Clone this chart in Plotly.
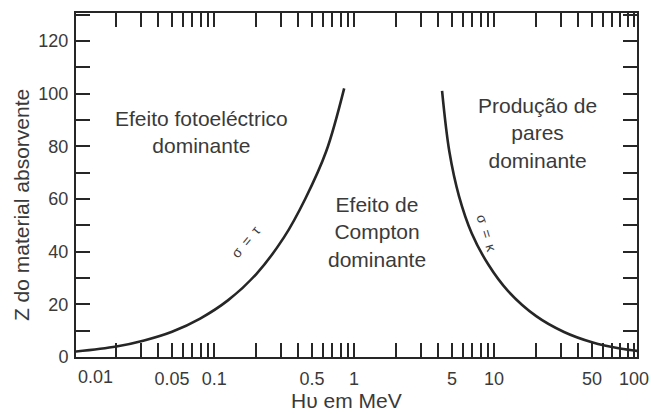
import math
import plotly.graph_objects as go

# Boundary where photoelectric absorption equals Compton scattering (sigma = tau)
photo_energy = [0.0100, 0.0200, 0.0316, 0.0500, 0.0794, 0.126, 0.200, 0.316, 0.447, 0.631, 0.849]
photo_z = [2.0, 4.0, 6.3, 9.6, 14.6, 21.6, 31.5, 45.5, 60.0, 78.0, 102.0]

# Boundary where pair production equals Compton scattering (sigma = kappa)
pair_energy = [4.25, 4.79, 5.62, 6.92, 9.12, 12.6, 20.0, 31.6, 50.1, 79.4, 107.0]
pair_z = [101.0, 78.0, 61.0, 47.0, 35.0, 25.0, 15.5, 9.5, 5.6, 3.2, 2.3]

# Axis ticks
x_ticks = [0.02, 0.03, 0.04, 0.05, 0.06, 0.07, 0.08, 0.09,
           0.1, 0.2, 0.3, 0.4, 0.5, 0.6, 0.7, 0.8, 0.9,
           1, 2, 3, 4, 5, 6, 7, 8, 9,
           10, 20, 30, 40, 50, 60, 70, 80, 90, 100]
x_labelled = {0.05: "0.05", 0.1: "0.1", 0.5: "0.5", 1: "1", 5: "5",
              10: "10", 50: "50", 100: "100"}
x_tick_text = [x_labelled.get(v, "") for v in x_ticks]

y_ticks = list(range(0, 131, 10))
y_tick_text = [str(v) if v % 20 == 0 else "" for v in y_ticks]

# Region labels: (text, energy, Z)
regions = [
    ("Efeito fotoeléctrico<br>dominante", 0.0807, 85.4),
    ("Efeito de<br>Compton<br>dominante", 1.46, 47.5),
    ("Produção de<br>pares<br>dominante", 20.3, 85.0),
]
SP = "\u2002"
curve_labels = [
    (f"σ{SP}={SP}τ", 0.167, 43.8, -50),
    (f"σ{SP}={SP}κ", 8.9, 46.7, 73),
]

INK = "#262626"
TEXT = "#3a3a3a"
FONT = "Liberation Sans, Arial, sans-serif"

fig = go.Figure()
for xs, ys in ((photo_energy, photo_z), (pair_energy, pair_z)):
    fig.add_trace(go.Scatter(
        x=xs, y=ys, mode="lines",
        line=dict(color=INK, width=2.6, shape="spline", smoothing=1.0),
        hoverinfo="skip", showlegend=False,
    ))

for text, ex, zy in regions:
    fig.add_annotation(x=math.log10(ex), y=zy, text=text, showarrow=False,
                       font=dict(family=FONT, size=21, color=TEXT),
                       xanchor="center", yanchor="middle", align="center")

for text, ex, zy, ang in curve_labels:
    fig.add_annotation(x=math.log10(ex), y=zy, text=text, showarrow=False,
                       textangle=ang,
                       font=dict(family=FONT, size=14, color="#3c3c3c"),
                       xanchor="center", yanchor="middle")

# Left-most energy label sits just inside the corner
fig.add_annotation(x=0.034, y=-0.058, xref="paper", yref="paper", text="0.01",
                   showarrow=False, font=dict(family=FONT, size=18, color=TEXT),
                   xanchor="center", yanchor="middle")

# Axis titles
fig.add_annotation(x=0.483, y=-0.125, xref="paper", yref="paper",
                   text="Hυ em MeV", showarrow=False,
                   font=dict(family=FONT, size=21, color=TEXT),
                   xanchor="center", yanchor="middle")
fig.add_annotation(x=-0.096, y=0.442, xref="paper", yref="paper",
                   text="Z do material absorvente", showarrow=False, textangle=-90,
                   font=dict(family=FONT, size=21, color=TEXT),
                   xanchor="center", yanchor="middle")

fig.update_xaxes(
    type="log", range=[math.log10(0.0103), math.log10(105)],
    tickvals=x_ticks, ticktext=x_tick_text,
    ticks="inside", ticklen=14, tickwidth=1.5, tickcolor=INK,
    showline=True, linewidth=2, linecolor=INK, mirror="ticks",
    showgrid=False, zeroline=False, ticklabelstandoff=4, automargin=False,
    tickfont=dict(family=FONT, size=18, color=TEXT),
)
fig.update_yaxes(
    range=[0, 130.6],
    tickvals=y_ticks, ticktext=y_tick_text,
    ticks="inside", ticklen=14, tickwidth=1.5, tickcolor=INK,
    showline=True, linewidth=2, linecolor=INK, mirror="ticks",
    showgrid=False, zeroline=False, ticklabelstandoff=2, automargin=False,
    tickfont=dict(family=FONT, size=18, color=TEXT),
)

fig.update_layout(
    width=651, height=414,
    margin=dict(l=76, r=14, t=13, b=57, autoexpand=False),
    paper_bgcolor="white", plot_bgcolor="white",
    font=dict(family=FONT, color=TEXT),
)

fig.write_html("out.html")
